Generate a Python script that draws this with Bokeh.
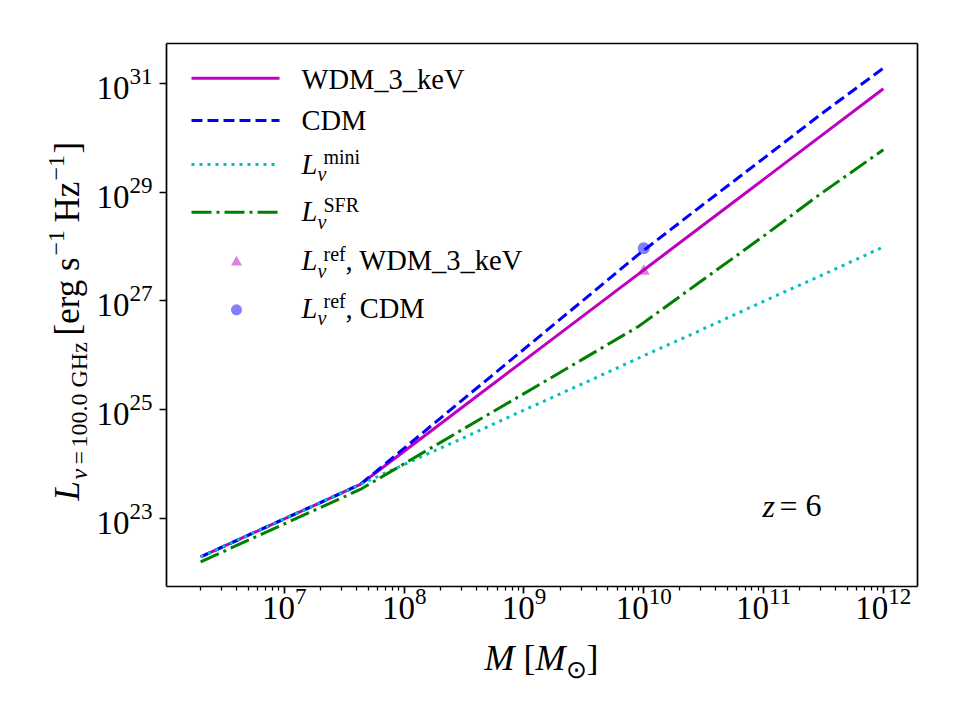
import math
from bokeh.plotting import figure
from bokeh.models import Range1d, FixedTicker, Label, LogAxis, LogTickFormatter
from bokeh.embed import file_html
from bokeh.resources import INLINE

# ---------------- data ----------------
mass = [2e6, 5e6, 1e7, 2e7, 4.3e7, 1e8, 3e8, 1e9, 3e9, 9e9, 1e10, 3e10, 1e11, 3e11, 1e12]
L_wdm = [1.95e22, 4.9e22, 9.8e22, 1.95e23, 4.2e23, 1.71e24, 1.07e25, 7.96e25, 4.97e26,
         3.10e27, 3.70e27, 2.31e28, 1.72e29, 1.07e30, 7.98e30]
L_cdm = [1.95e22, 4.9e22, 9.8e22, 1.95e23, 4.2e23, 1.95e24, 1.45e25, 1.29e26, 9.55e26,
         7.08e27, 8.51e27, 5.50e28, 4.17e29, 2.69e30, 1.91e31]
L_mini = [1.95e22, 4.9e22, 9.8e22, 1.95e23, 4.2e23, 9.8e23, 2.9e24, 9.8e24, 2.9e25,
          8.8e25, 9.8e25, 2.9e26, 9.8e26, 2.9e27, 9.8e27]
L_sfr = [1.58e22, 3.96e22, 7.9e22, 1.58e23, 3.4e23, 1.01e24, 4.18e24, 1.97e25, 8.13e25,
         3.37e26, 3.98e26, 2.29e27, 1.55e28, 9.33e28, 6.03e29]

M_ref = [1e10]
L_ref_wdm = [3.5e27]
L_ref_cdm = [9.3e27]

x_tick_exps = [7, 8, 9, 10, 11, 12]
y_tick_exps = [23, 25, 27, 29, 31]
redshift_label = "6"

# ---------------- layout ----------------
W, H = 960, 720
FL, FR, FT, FB = 166, 917, 43, 586          # axes box edges in px
XL0, XL1 = 6.016, 12.285                   # log10 x-limits of the axes box
YL0, YL1 = 21.746, 31.734                  # log10 y-limits of the axes box
PXX = (FR - FL) / (XL1 - XL0)
PXY = (FB - FT) / (YL1 - YL0)
XA0, XA1 = XL0 - FL / PXX, XL1 + (W - FR) / PXX
YA0, YA1 = YL0 - (H - FB) / PXY, YL1 + FT / PXY
SERIF = "Liberation Serif"

p = figure(width=W, height=H, x_axis_type="log", y_axis_type="log",
           x_range=Range1d(10 ** XA0, 10 ** XA1), y_range=Range1d(10 ** YA0, 10 ** YA1),
           output_backend="svg", toolbar_location=None, min_border=0)
p.xgrid.visible = False
p.ygrid.visible = False
p.outline_line_color = None
p.background_fill_color = "white"
p.border_fill_color = "white"


def dx(px):
    return 10 ** (XA0 + px / PXX)


def dy(py):
    return 10 ** (YA1 - py / PXY)


# ---------------- axes (drawn at the box edges) ----------------
x_minor = [m * 10 ** e for e in range(6, 12) for m in range(2, 10) if XL0 < math.log10(m * 10 ** e) < XL1]
xa, ya = p.xaxis[0], p.yaxis[0]
xa.ticker = FixedTicker(ticks=[10 ** e for e in x_tick_exps], minor_ticks=x_minor)
ya.ticker = FixedTicker(ticks=[10 ** e for e in y_tick_exps], minor_ticks=[])
xa.fixed_location = 10 ** YL0
ya.fixed_location = 10 ** XL0
xa.bounds = (10 ** XL0, 10 ** XL1)
ya.bounds = (10 ** YL0, 10 ** YL1)
xa.major_label_standoff = -6
ya.major_label_standoff = 7
for ax in (xa, ya):
    ax.formatter = LogTickFormatter()
    ax.major_label_text_font = SERIF
    ax.major_label_text_font_size = "33px"
    ax.major_label_text_color = "black"

top_ax = LogAxis(fixed_location=10 ** YL1, bounds=(10 ** XL0, 10 ** XL1),
                 ticker=FixedTicker(ticks=[], minor_ticks=[]))
right_ax = LogAxis(fixed_location=10 ** XL1, bounds=(10 ** YL0, 10 ** YL1),
                   ticker=FixedTicker(ticks=[], minor_ticks=[]))
p.add_layout(top_ax, "above")
p.add_layout(right_ax, "right")

for ax in (xa, ya, top_ax, right_ax):
    ax.axis_line_color = "black"
    ax.axis_line_width = 1.7
    ax.major_tick_line_color = "black"
    ax.major_tick_line_width = 1.7
    ax.major_tick_out = 7
    ax.major_tick_in = 0
    ax.minor_tick_line_color = "black"
    ax.minor_tick_line_width = 1.25
    ax.minor_tick_out = 4
    ax.minor_tick_in = 0

# ---------------- series ----------------
LW = 3
p.line(mass, L_wdm, line_color="#bf00bf", line_width=LW)
p.line(mass, L_cdm, line_color="#0000ff", line_width=LW, line_dash="11 5")
p.line(mass, L_mini, line_color="#00bfbf", line_width=LW, line_dash="3 5")
p.line(mass, L_sfr, line_color="#008000", line_width=LW, line_dash="20 5 3 5")
p.scatter(M_ref, L_ref_wdm, marker="triangle", size=12, fill_color="#bf00bf", fill_alpha=0.5, line_color=None)
p.scatter(M_ref, L_ref_cdm, marker="circle", size=12, fill_color="#0000ff", fill_alpha=0.5, line_color=None)

K = 0.3  # empirical baseline correction (fraction of font size)


def lab(px, py, text, size, style="normal", align="left", angle=0.0):
    if angle == 0.0:
        py = py - K * size
    else:
        px = px - K * size
    p.add_layout(Label(x=dx(px), y=dy(py), text=text, text_font=SERIF,
                       text_font_size=f"{size}px", text_font_style=style,
                       text_align=align, text_baseline="alphabetic", angle=angle,
                       text_color="black"))


AX, AXS = 36, 25

# ---------------- axis labels ----------------
lab(484, 668, "M", AX, "italic")
lab(523, 668, "[", AX)
lab(535, 668, "M", AX, "italic")
lab(565, 676, "\u2299", AXS)
lab(586, 668, "]", AX)

A = math.pi / 2
YM, YS = 35, 24
ylab_pieces = [
    ("L", 500, 77, YM, "italic"),
    ("\u03bd", 479, 86, YS, "italic"),
    ("=", 464, 86, YS, "normal"),
    ("100.0 GHz", 447, 86, YS, "normal"),
    ("[erg s", 335, 77, YM, "normal"),
    ("\u22121", 255, 63, YS, "normal"),
    ("Hz", 222, 77, YM, "normal"),
    ("\u22121", 180, 63, YS, "normal"),
    ("]", 153, 77, YM, "normal"),
]
for t, py, px, sz, st in ylab_pieces:
    lab(px, py, t, sz, st, angle=A)

# ---------------- z label ----------------
lab(762, 515, "z", 32, "italic")
lab(779, 515, "=", 32)
lab(805, 515, redshift_label, 32)

# ---------------- legend ----------------
LEG = 28.5
LSUB = 20
hx0, hx1, mx, tx = 191, 279, 236, 301
rows_y = [77.7, 120.0, 164.0, 211.7, 261.7, 309.3]
p.line([dx(hx0), dx(hx1)], [dy(rows_y[0])] * 2, line_color="#bf00bf", line_width=LW)
p.line([dx(hx0), dx(hx1)], [dy(rows_y[1])] * 2, line_color="#0000ff", line_width=LW, line_dash="11 5")
p.line([dx(hx0), dx(hx1)], [dy(rows_y[2])] * 2, line_color="#00bfbf", line_width=LW, line_dash="3 5")
p.line([dx(hx0), dx(hx1)], [dy(rows_y[3])] * 2, line_color="#008000", line_width=LW, line_dash="20 5 3 5")
p.scatter([dx(mx)], [dy(rows_y[4])], marker="triangle", size=11, fill_color="#bf00bf", fill_alpha=0.5, line_color=None)
p.scatter([dx(mx)], [dy(rows_y[5])], marker="circle", size=11, fill_color="#0000ff", fill_alpha=0.5, line_color=None)

lab(tx, 87.7, "WDM_3_keV", LEG)
lab(tx, 128.5, "CDM", LEG)
for (sup, tail), b in zip([("mini", None), ("SFR", None), ("ref", ", WDM_3_keV"), ("ref", ", CDM")],
                          [172.7, 220.0, 269.0, 316.7]):
    lab(tx, b, "L", LEG, "italic")
    lab(tx + 16, b + 7, "\u03bd", LSUB, "italic")
    lab(tx + 22, b - 10, sup, LSUB)
    if tail:
        lab(tx + 44, b, tail, LEG)

open("out.html", "w").write(file_html(p, INLINE))
